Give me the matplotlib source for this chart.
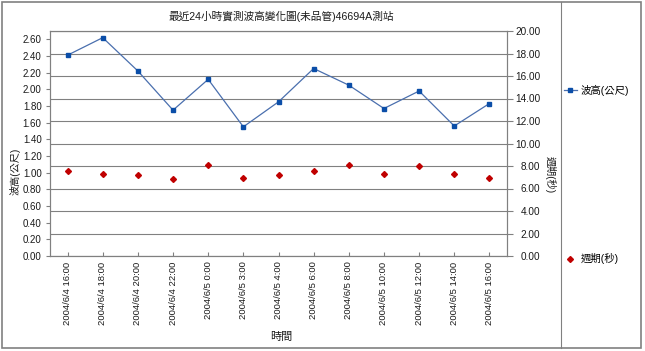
import numpy as np
import matplotlib
matplotlib.use("Agg")
import matplotlib.pyplot as plt
from matplotlib.lines import Line2D
from matplotlib.patches import Rectangle

plt.rcParams['font.family'] = ['Liberation Sans', 'Noto Sans CJK TC', 'DejaVu Sans']

# data
times = ["2004/6/4 16:00", "2004/6/4 18:00", "2004/6/4 20:00", "2004/6/4 22:00",
         "2004/6/5 0:00", "2004/6/5 3:00", "2004/6/5 4:00", "2004/6/5 6:00",
         "2004/6/5 8:00", "2004/6/5 10:00", "2004/6/5 12:00", "2004/6/5 14:00",
         "2004/6/5 16:00"]
wave_height = [2.41, 2.62, 2.22, 1.75, 2.12, 1.55, 1.85, 2.25, 2.05, 1.77, 1.98, 1.56, 1.83]
period = [7.6, 7.3, 7.2, 6.85, 8.1, 6.95, 7.2, 7.6, 8.1, 7.3, 8.0, 7.3, 6.9]
left_ticks = np.arange(0, 2.61, 0.2)
right_ticks = np.arange(0, 20.1, 2)

W, H = 645, 351
fig = plt.figure(figsize=(W / 100, H / 100), dpi=100)

def fx(px):
    return px / W

def fy(py):
    return 1 - py / H

grey = "#808080"
txt = "#1a1a1a"

ax = fig.add_axes([fx(50), fy(256), fx(507) - fx(50), fy(31) - fy(256)])
ax2 = ax.twinx()

x = np.arange(len(times))

# right axis: grid + period markers (behind)
ax2.set_ylim(0, 20)
ax2.set_yticks(right_ticks)
ax2.set_yticklabels([f"{v:.2f}" for v in right_ticks], ha="right")
ax2.tick_params(axis="y", direction="out", length=4, width=0.8, color=grey,
                pad=20, labelsize=7.2, labelcolor=txt)
ax2.grid(True, axis="y", color=grey, linewidth=0.8)
ax2.set_axisbelow(True)
pts, = ax2.plot(x, period, linestyle="none", marker="D", markersize=3.0,
                color="#c00000", label="週期(秒)")

# left axis: wave height line (on top)
ax.set_zorder(ax2.get_zorder() + 1)
ax.patch.set_visible(False)
ln, = ax.plot(x, wave_height, color="#4a6fae", linewidth=0.9, marker="s",
              markersize=3.3, markerfacecolor="#0b4ea8", markeredgecolor="#0b4ea8",
              label="波高(公尺)")
ax.set_ylim(0, 2.7)
ax.set_yticks(left_ticks)
ax.set_yticklabels([f"{v:.2f}" for v in left_ticks])
ax.tick_params(axis="y", direction="out", length=3, width=0.8, color=grey,
               pad=3, labelsize=7, labelcolor=txt)
ax.set_xlim(-0.5, len(times) - 0.5)
ax.set_xticks(x)
ax.set_xticklabels(times, rotation=90)
ax.tick_params(axis="x", direction="in", length=3, width=0.8, color=grey,
               pad=4, labelsize=6.8, labelcolor=txt)

for a in (ax, ax2):
    for s in a.spines.values():
        s.set_color(grey)
        s.set_linewidth(0.8)

fig.text(fx(281), fy(16), "最近24小時實測波高變化圖(未品管)46694A測站",
         ha="center", va="center", fontsize=7.7, color=txt)
fig.text(fx(281), fy(337), "時間", ha="center", va="center", fontsize=8, color=txt)
fig.text(fx(15), fy(171), "波高(公尺)", ha="center", va="center", rotation=90,
         fontsize=7.3, color=txt)
fig.text(fx(550), fy(175), "週期(秒)", ha="center", va="center", rotation=270,
         fontsize=7.3, color=txt)

# legends in the right box
fig.legend(handles=[ln], loc="center left", bbox_to_anchor=(fx(562), fy(90)),
           frameon=False, fontsize=7.5, handlelength=1.2, handletextpad=0.4,
           borderaxespad=0, borderpad=0.2)
fig.legend(handles=[pts], loc="center left", bbox_to_anchor=(fx(562), fy(259)),
           frameon=False, fontsize=7.5, handlelength=1.2, handletextpad=0.4,
           borderaxespad=0, borderpad=0.2)

# outer border and legend separator
fig.add_artist(Rectangle((fx(2), fy(348)), fx(641) - fx(2), fy(2) - fy(348),
                         transform=fig.transFigure, fill=False, edgecolor=grey,
                         linewidth=1.2))
fig.add_artist(Line2D([fx(561), fx(561)], [fy(2), fy(348)],
                      transform=fig.transFigure, color=grey, linewidth=0.8))

fig.savefig("out.png", dpi=100)
